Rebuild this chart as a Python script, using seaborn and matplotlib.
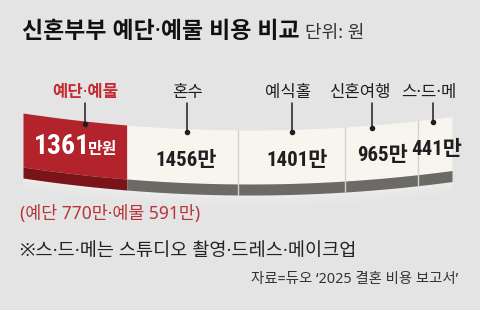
import numpy as np
import pandas as pd
import matplotlib
matplotlib.use("Agg")
import matplotlib.pyplot as plt
import seaborn as sns

# ---------------- data ----------------
categories = ["예단·예물", "혼수", "예식홀", "신혼여행", "스·드·메"]
values = [1361, 1456, 1401, 965, 441]          # 만원
value_labels = ["1361", "1456만", "1401만", "965만", "441만"]
first_unit = "만원"
breakdown_names = ["예단", "예물"]
breakdown_values = [770, 591]
title = "신혼부부 예단·예물 비용 비교"
unit_text = "단위: 원"
note = "※스·드·메는 스튜디오 촬영·드레스·메이크업"
source = "자료=듀오 \u20182025 결혼 비용 보고서\u2019"

# ---------------- style ----------------
BG = "#e4e4e4"
RED = "#b3232b"
RED_DARK = "#7a1419"
RED_TEXT = "#c42a31"
CREAM = "#f8f5ef"
GRAY_SIDE = "#6c6a66"
SEP = "#d6d2ca"
INK = "#1e1e1e"

sns.set_theme(style="white")
plt.rcParams["font.family"] = ["Noto Sans", "Noto Sans CJK KR", "DejaVu Sans"]
KFONT = ["Noto Sans", "Noto Sans CJK KR", "DejaVu Sans"]
CJK = ["Noto Sans CJK KR", "DejaVu Sans"]
NUMFONT = ["Liberation Sans Narrow", "DejaVu Sans Condensed", "Roboto Condensed",
           "Roboto", "Noto Sans CJK KR"]

W, H = 480, 310
fig = plt.figure(figsize=(W / 100, H / 100), dpi=100)
fig.patch.set_facecolor(BG)
ax = fig.add_axes([0, 0, 1, 1])
ax.set_facecolor(BG)

total = sum(values)
X0, X1 = 23, 452                      # ribbon span in pixels
s = total / (X1 - X0)
ax.set_xlim(-X0 * s, (W - X0) * s)
ax.set_ylim(H, 0)
ax.axis("off")

FACE_H, SIDE_H = 54, 11


def px(v):
    return X0 + np.asarray(v) / s


def top(v):
    p = px(v)
    return 130 - 0.00033 * (p - 250) ** 2


cum = np.concatenate([[0], np.cumsum(values)])

# soft glow under the ribbon
xs_all = np.linspace(cum[0], cum[-1], 200)
for k, a in enumerate([0.14, 0.11, 0.08, 0.05, 0.03]):
    ax.fill_between(xs_all, top(xs_all) + FACE_H + SIDE_H,
                    top(xs_all) + FACE_H + SIDE_H + 3 + 3 * k,
                    color="white", alpha=a, lw=0)

# ribbon segments
for i, (a, b) in enumerate(zip(cum[:-1], cum[1:])):
    xs = np.linspace(a, b, 60)
    t = top(xs)
    face = RED if i == 0 else CREAM
    side = RED_DARK if i == 0 else GRAY_SIDE
    ax.fill_between(xs, t, t + FACE_H, color=face, lw=0)
    ax.fill_between(xs, t + FACE_H, t + FACE_H + SIDE_H, color=side, lw=0)

for v in cum[2:-1]:
    t = float(top(v))
    ax.plot([v, v], [t, t + FACE_H + SIDE_H], color=SEP, lw=1.0)

# labels, leader lines and dots
mids = (cum[:-1] + cum[1:]) / 2
label_dx = [10, 5, -3, -22, -6]
dot_dx = [10, 5, 1, -9.5, -2]
value_dx = [15, 4, 6, 0.5, 2]

dot_x = mids + np.array(dot_dx) * s
dot_y = top(dot_x) + 3
for i, cat in enumerate(categories):
    lx = mids[i] + label_dx[i] * s
    ax.text(lx, 93, cat, ha="center", va="center", fontsize=12,
            family=KFONT, color=RED_TEXT if i == 0 else INK,
            fontweight="bold" if i == 0 else "normal")
    ax.plot([dot_x[i], dot_x[i]], [103, dot_y[i]], color=INK, lw=1.1)

dots = pd.DataFrame({"x": dot_x, "y": dot_y})
sns.scatterplot(data=dots, x="x", y="y", ax=ax, s=16, color=INK,
                edgecolor=INK, linewidth=0, legend=False, zorder=5)

# value texts
for i, lab in enumerate(value_labels):
    cx = mids[i] + value_dx[i] * s
    if i == 0:
        base = float(top(cx)) + 32
        ax.text(cx, base, lab, ha="right", va="baseline", fontsize=20,
                family=NUMFONT, fontstretch="condensed", fontweight="bold",
                color="white")
        ax.text(cx - 1.5 * s, base, first_unit, ha="left", va="baseline",
                fontsize=11.5, family=CJK, fontweight="bold", color="white")
    else:
        base = float(top(cx)) + 37
        ax.text(cx, base, lab, ha="center", va="baseline", fontsize=15,
                family=NUMFONT, fontstretch="condensed", fontweight="bold",
                color=INK)

# header / footer texts
fig.text(22 / W, 1 - 32 / H, title, ha="left", va="center", fontsize=16.5,
         fontweight="bold", family=KFONT, color="#111111")
fig.text(305 / W, 1 - 33 / H, unit_text, ha="left", va="center", fontsize=13,
         family=KFONT, color="#333333")

breakdown = "(" + "·".join(f"{n} {v}만" for n, v in zip(breakdown_names, breakdown_values)) + ")"
fig.text(20 / W, 1 - 214 / H, breakdown, ha="left", va="center", fontsize=12.5,
         family=KFONT, color="#b8343b")
fig.text(20 / W, 1 - 251 / H, note, ha="left", va="center", fontsize=13.4,
         family=KFONT, color="#222222")
fig.text(458 / W, 1 - 280 / H, source, ha="right", va="center", fontsize=10.4,
         family=KFONT, color="#333333")

fig.savefig("out.png", dpi=100, facecolor=BG)
